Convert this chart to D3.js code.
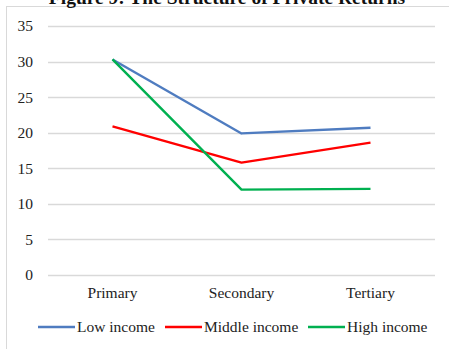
<!DOCTYPE html>
<html><head><meta charset="utf-8">
<script src="https://cdn.jsdelivr.net/npm/d3@7"></script>
<style>body{margin:0;background:#fff;} svg{display:block;} text{font-family:"Liberation Serif","Times New Roman",Times,serif;}</style>
</head><body>
<script>
const categories = ["Primary", "Secondary", "Tertiary"];
const lowIncome = [30.3, 19.9, 20.7];
const middleIncome = [20.9, 15.8, 18.6];
const highIncome = [30.3, 12.0, 12.1];
const yTicks = [0, 5, 10, 15, 20, 25, 30, 35];
const seriesNames = ["Low income", "Middle income", "High income"];
const seriesColors = ["#4F7CC0", "#FF0000", "#00B050"];
const title = "Figure 9: The Structure of Private Returns";

const W = 449, H = 349;
const svg = d3.select("body").append("svg").attr("width", W).attr("height", H);
const font = '"Liberation Serif","Times New Roman",Times,serif';

// frame
svg.append("rect").attr("x", 6.5).attr("y", 6.5).attr("width", 460).attr("height", 360)
  .attr("fill", "none").attr("stroke", "#d9d9d9").attr("stroke-width", 1);

// title (cropped at top, as in the source)
svg.append("text").attr("x", 227).attr("y", 4).attr("text-anchor", "middle")
  .style("font-family", font).attr("font-weight", "bold").attr("font-size", 19.5)
  .attr("fill", "#111").text(title);

const x = d3.scaleBand().domain(categories).range([48, 435]);
const y = d3.scaleLinear().domain([0, 35]).range([275, 26]);

// gridlines
svg.append("g").selectAll("line").data(yTicks).join("line")
  .attr("x1", 48).attr("x2", 435)
  .attr("y1", d => Math.round(y(d)) + 0.5).attr("y2", d => Math.round(y(d)) + 0.5)
  .attr("stroke", "#d9d9d9").attr("stroke-width", 1.3);

// y axis labels
const yAxis = svg.append("g").attr("transform", "translate(41,0)")
  .call(d3.axisLeft(y).tickValues(yTicks).tickSize(0).tickPadding(8));
yAxis.attr("font-family", null);
yAxis.select(".domain").remove();
yAxis.selectAll("text").style("font-family", font).attr("font-size", 15.5).attr("fill", "#222");

// x axis labels
const xAxis = svg.append("g").attr("transform", "translate(0,283)")
  .call(d3.axisBottom(x).tickSize(0).tickPadding(4));
xAxis.attr("font-family", null);
xAxis.select(".domain").remove();
xAxis.selectAll("text").style("font-family", font).attr("font-size", 15.5).attr("fill", "#222");

// lines
const allSeries = [lowIncome, middleIncome, highIncome];
const line = d3.line().x((d, i) => x(categories[i]) + x.bandwidth() / 2).y(d => y(d));
svg.append("g").selectAll("path").data(allSeries).join("path")
  .attr("d", d => line(d)).attr("fill", "none")
  .attr("stroke", (d, i) => seriesColors[i]).attr("stroke-width", 2.4)
  .attr("stroke-linejoin", "round");

// legend
const legendX = [38, 165, 308];
const lg = svg.append("g").selectAll("g").data(seriesNames).join("g")
  .attr("transform", (d, i) => `translate(${legendX[i]},327)`);
lg.append("line").attr("x1", 0).attr("x2", 37).attr("y1", 0).attr("y2", 0)
  .attr("stroke", (d, i) => seriesColors[i]).attr("stroke-width", 2.4);
lg.append("text").attr("x", 39).attr("y", 5).style("font-family", font).attr("font-size", 15.5)
  .attr("fill", "#222").text(d => d);
</script>
</body></html>
